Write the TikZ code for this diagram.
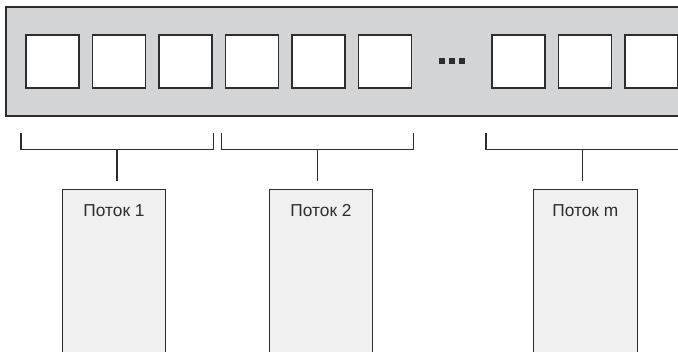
\documentclass[tikz,border=0pt]{standalone}
\usepackage{fontspec}
\setmainfont{Liberation Sans}
\definecolor{panel}{RGB}{211,212,214}
\definecolor{boxfill}{RGB}{240,240,240}
\definecolor{ink}{RGB}{45,45,45}
\tikzset{
  sq/.style={draw=ink, line width=1.3pt, fill=white, minimum size=53pt, inner sep=0pt, rectangle},
  dotsq/.style={fill=ink, minimum size=5.7pt, inner sep=0pt, rectangle},
  bracket/.style={draw=ink, line width=1.2pt},
  stem/.style={draw=ink, line width=1.2pt},
  thread/.style={draw=ink, line width=1pt, fill=boxfill, minimum width=103.4pt, minimum height=200pt, inner sep=0pt, anchor=north, rectangle},
  lbl/.style={anchor=base, font=\fontsize{17.3}{20}\selectfont, text=ink, inner sep=0pt}
}
\begin{document}
\begin{tikzpicture}[x=1pt,y=-1pt]
\useasboundingbox (0,0) rectangle (678,352);
\clip (0,0) rectangle (678,352);
\fill[white] (0,0) rectangle (678,352);
% panel
\draw[draw=ink, line width=1.3pt, fill=panel] (6,7) rectangle (700,116);
% squares
\foreach \i/\x in {1/26, 2/92.5, 3/159, 4/225.5, 5/292, 6/358.5, 7/492, 8/558.5, 9/625}{
  \node[sq] (s\i) at (\x+26.5,61.5) {};
}
% dots
\node[dotsq] (d1) at (441.8,61.2) {};
\node[dotsq] (d2) at (451.8,61.2) {};
\node[dotsq] (d3) at (461.8,61.2) {};
% brackets
\coordinate (b1) at (117,149.3);
\coordinate (b2) at (317.5,149.3);
\coordinate (b3) at (582.7,149.3);
\draw[bracket] (21,133) -- (21,149.3) -- (213.3,149.3) -- (213.3,133);
\draw[bracket] (221.7,133) -- (221.7,149.3) -- (413.3,149.3) -- (413.3,133);
\draw[bracket] (486,133) -- (486,149.3) -- (700,149.3);
% thread boxes
\node[thread] (p1) at (114,189.3) {};
\node[thread] (p2) at (321,189.3) {};
\node[thread] (p3) at (585.3,189.3) {};
\node[lbl] (t1) at ([yshift=-27.4pt]p1.north) {Поток 1};
\node[lbl] (t2) at ([yshift=-27.4pt]p2.north) {Поток 2};
\node[lbl] (t3) at ([yshift=-27.4pt]p3.north) {Поток m};
% stems
\draw[stem] (b1) -- ([yshift=8pt]b1 |- p1.north);
\draw[stem] (b2) -- ([yshift=8pt]b2 |- p2.north);
\draw[stem] (b3) -- ([yshift=8pt]b3 |- p3.north);
\end{tikzpicture}
\end{document}
